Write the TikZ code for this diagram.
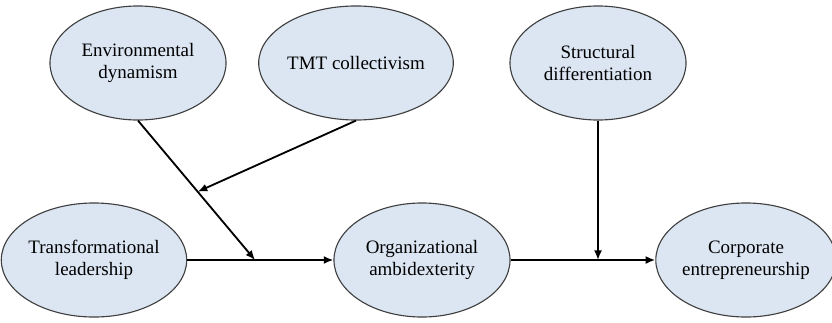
\documentclass[tikz,border=0pt]{standalone}
\usepackage{fontspec}
\setmainfont{Liberation Serif}
\newfontfamily\bubblefont{Liberation Serif}
\usetikzlibrary{shapes.geometric}
\usetikzlibrary{arrows.meta}
\usetikzlibrary{calc}
\definecolor{bubbleCol}{RGB}{220,230,243}
\tikzset{
  factor/.style={ellipse, draw=black!75, line width=0.8pt, fill=bubbleCol,
    minimum width=4.4cm, minimum height=2.85cm, inner sep=0pt, align=center,
    font=\bubblefont\fontsize{13.5}{15.6}\selectfont},
  link/.style={-{Latex[length=2.4mm,width=2mm]}, line width=1.3pt}
}

\begin{document}
\begin{tikzpicture}[x=0.025cm, y=-0.025cm]
%--------------------------------------------------
\useasboundingbox (0,0) rectangle (832,322);

% moderators on top
\node[factor] (env) at (138,63) {Environmental\\dynamism};
\node[factor] (tmt) at (356,63) {TMT collectivism};
\node[factor] (sdiff) at (598,63) {Structural\\differentiation};

% main path
\node[factor] (tl) at (94,260) {Transformational\\leadership};
\node[factor] (oa) at (422,260) {Organizational\\ambidexterity};
\node[factor, minimum width=4.2cm] (ce) at (746,260) {Corporate\\entrepreneurship};

% points where the moderating arrows land
\coordinate (m1) at (255,260);
\coordinate (m2) at (sdiff.south |- oa.east);
\coordinate (m3) at ($(env.south)!0.51!(m1)$);

% arrows
\draw[link] (tl) -- (oa);
\draw[link] (oa) -- (ce);
\draw[link] (env.south) -- (m1);
\draw[link] (tmt.south) -- (m3);
\draw[link] (sdiff) -- (m2);

%--------------------------------------------------
\end{tikzpicture}
\end{document}
